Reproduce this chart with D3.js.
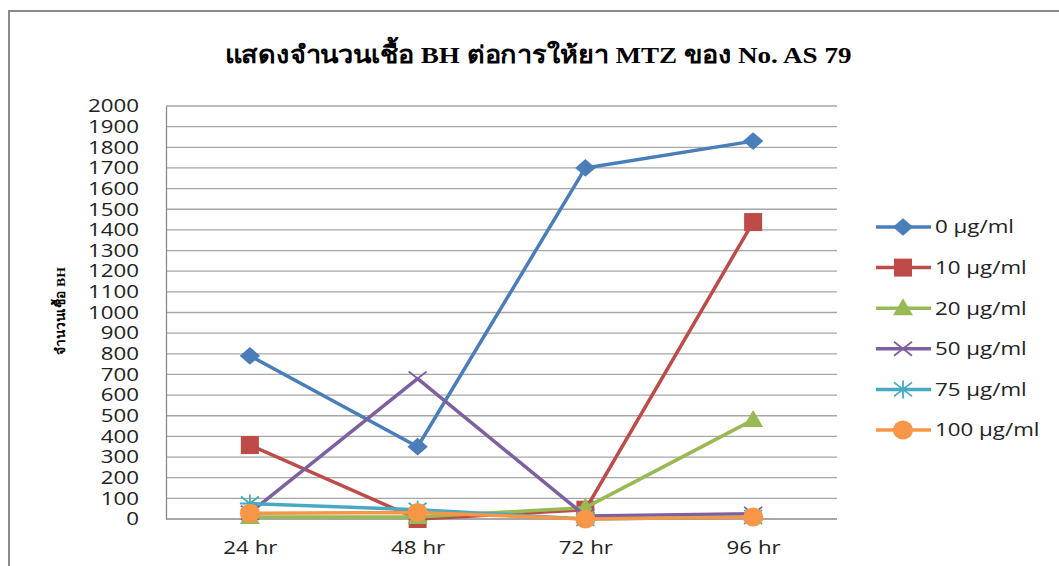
<!DOCTYPE html>
<html>
<head>
<meta charset="utf-8">
<script src="https://cdn.jsdelivr.net/npm/d3@7"></script>
<style>
  body { margin: 0; background: #fff; }
  svg { display: block; }
  .tick text { font-family: "Open Sans", "Liberation Sans", sans-serif; fill: #222; }
</style>
</head>
<body>
<svg id="chart" width="1059" height="566"></svg>
<script>
// data
var categories = ['24 hr', '48 hr', '72 hr', '96 hr'];
var seriesNames = ['0 µg/ml', '10 µg/ml', '20 µg/ml', '50 µg/ml', '75 µg/ml', '100 µg/ml'];
var conc0 = [790, 350, 1700, 1830];
var conc10 = [358, 0, 45, 1438];
var conc20 = [10, 10, 55, 480];
var conc50 = [30, 680, 15, 25];
var conc75 = [75, 45, 0, 10];
var conc100 = [28, 32, 0, 10];
var yTicks = d3.range(0, 2001, 100);

var colors = ['#4a7ebb', '#be4b48', '#98b954', '#7d60a0', '#46aac5', '#f79646'];
var symbols = ['diamond', 'square', 'triangle', 'x', 'star', 'circle'];
var allSeries = [conc0, conc10, conc20, conc50, conc75, conc100];

// the source picture is a bit stretched sideways
var stretch = 1.24;

var svg = d3.select('#chart');

// outer chart frame
svg.append('rect')
  .attr('x', 9).attr('y', 11)
  .attr('width', 1100).attr('height', 600)
  .attr('fill', 'none')
  .attr('stroke', '#8a8a8a')
  .attr('stroke-width', 2);

var plotLeft = 166, plotRight = 837, plotTop = 106, plotBottom = 519;

var x = d3.scalePoint().domain(categories).range([plotLeft, plotRight]).padding(0.5);
var y = d3.scaleLinear().domain([0, 2000]).range([plotBottom, plotTop]);

// gridlines
svg.append('g')
  .selectAll('line')
  .data(yTicks.slice(1))
  .enter().append('line')
  .attr('x1', plotLeft).attr('x2', plotRight)
  .attr('y1', function(d) { return y(d); })
  .attr('y2', function(d) { return y(d); })
  .attr('stroke', '#a6a6a6')
  .attr('stroke-width', 1.3);

// y axis
var yAxis = svg.append('g')
  .attr('transform', 'translate(' + plotLeft + ',0)')
  .call(d3.axisLeft(y).tickValues(yTicks).tickFormat(d3.format('d')).tickSize(0));
yAxis.select('.domain').attr('stroke', '#8a8a8a').attr('stroke-width', 1.3);
yAxis.selectAll('text')
  .style('font-size', '18px')
  .attr('x', -27 / stretch)
  .attr('transform', 'scale(' + stretch + ',1)');

// x axis
var xAxis = svg.append('g')
  .attr('transform', 'translate(0,' + plotBottom + ')')
  .call(d3.axisBottom(x).tickSize(0).tickPadding(22));
xAxis.select('.domain').attr('stroke', '#8a8a8a').attr('stroke-width', 1.3)
  .attr('d', 'M' + plotLeft + ',0H' + plotRight);
xAxis.selectAll('text')
  .style('font-size', '18px')
  .attr('transform', 'scale(' + stretch + ',1)');

function drawMarker(g, type, cx, cy, color) {
  if (type === 'diamond') {
    g.append('path').attr('d', d3.symbol(d3.symbolDiamond2, 200)())
      .attr('transform', 'translate(' + cx + ',' + cy + ') scale(1.15,1)')
      .attr('fill', color);
  } else if (type === 'square') {
    g.append('rect').attr('x', cx - 9).attr('y', cy - 9)
      .attr('width', 18).attr('height', 18).attr('fill', color);
  } else if (type === 'triangle') {
    g.append('path').attr('d', 'M' + cx + ',' + (cy - 10) + 'L' + (cx + 10) + ',' + (cy + 7) + 'L' + (cx - 10) + ',' + (cy + 7) + 'Z')
      .attr('fill', color);
  } else if (type === 'x') {
    g.append('path').attr('d', 'M' + (cx - 9) + ',' + (cy - 7) + 'L' + (cx + 9) + ',' + (cy + 7) + 'M' + (cx + 9) + ',' + (cy - 7) + 'L' + (cx - 9) + ',' + (cy + 7))
      .attr('stroke', color).attr('stroke-width', 1.8).attr('fill', 'none');
  } else if (type === 'star') {
    g.append('path').attr('d', 'M' + (cx - 9) + ',' + (cy - 7) + 'L' + (cx + 9) + ',' + (cy + 7) + 'M' + (cx + 9) + ',' + (cy - 7) + 'L' + (cx - 9) + ',' + (cy + 7) +
        'M' + cx + ',' + (cy - 9) + 'L' + cx + ',' + (cy + 9) + 'M' + (cx - 10) + ',' + cy + 'L' + (cx + 10) + ',' + cy)
      .attr('stroke', color).attr('stroke-width', 1.8).attr('fill', 'none');
  } else {
    g.append('ellipse').attr('cx', cx).attr('cy', cy).attr('rx', 10).attr('ry', 9.5).attr('fill', color);
  }
}

var line = d3.line()
  .x(function(d, i) { return x(categories[i]); })
  .y(function(d) { return y(d); });

allSeries.forEach(function(values, s) {
  var g = svg.append('g').attr('class', 'series');
  g.append('path')
    .datum(values)
    .attr('d', line)
    .attr('fill', 'none')
    .attr('stroke', colors[s])
    .attr('stroke-width', 3.5)
    .attr('stroke-linejoin', 'round');
  values.forEach(function(v, i) {
    drawMarker(g, symbols[s], x(categories[i]), y(v), colors[s]);
  });
});

// legend
var legend = svg.append('g');
seriesNames.forEach(function(name, s) {
  var ly = 227 + s * 40.6;
  legend.append('line')
    .attr('x1', 876).attr('x2', 931).attr('y1', ly).attr('y2', ly)
    .attr('stroke', colors[s]).attr('stroke-width', 3.5);
  drawMarker(legend, symbols[s], 903, ly, colors[s]);
  legend.append('text')
    .attr('transform', 'translate(935,' + ly + ') scale(' + stretch + ',1)')
    .attr('dy', '0.35em')
    .style('font-family', '"Open Sans", "Liberation Sans", sans-serif')
    .style('font-size', '18px').attr('fill', '#222')
    .text(name);
});

// title
svg.append('text')
  .attr('x', 538).attr('y', 63)
  .attr('text-anchor', 'middle')
  .attr('textLength', 627)
  .attr('lengthAdjust', 'spacingAndGlyphs')
  .style('font-family', '"Liberation Serif", "DejaVu Serif", serif')
  .style('font-weight', 'bold')
  .style('font-size', '24px')
  .attr('fill', '#000')
  .text('แสดงจำนวนเชื้อ BH ต่อการให้ยา MTZ ของ No. AS 79');

// y axis title
svg.append('text')
  .attr('transform', 'translate(65,311) rotate(-90)')
  .attr('text-anchor', 'middle')
  .attr('textLength', 88)
  .attr('lengthAdjust', 'spacingAndGlyphs')
  .style('font-family', '"Liberation Serif", "DejaVu Serif", serif')
  .style('font-weight', 'bold')
  .style('font-size', '13px')
  .attr('fill', '#000')
  .text('จำนวนเชื้อ BH');
</script>
</body>
</html>
